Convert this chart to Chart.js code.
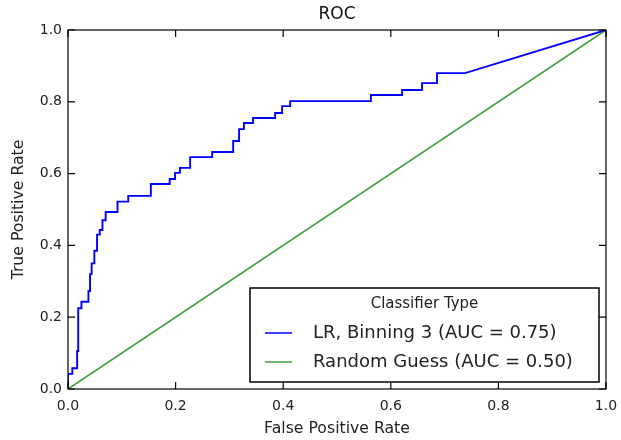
<!DOCTYPE html>
<html>
<head>
<meta charset="utf-8">
<script src="https://cdn.jsdelivr.net/npm/chart.js@4"></script>
<style>
  html, body { margin: 0; padding: 0; background: #fff; }
</style>
</head>
<body>
<canvas id="roc" width="621" height="440"></canvas>
<script>
// ROC curve (step corners)
const fpr = [0.0, 0.0, 0.008, 0.008, 0.017, 0.017, 0.019, 0.019, 0.025, 0.025,
  0.038, 0.038, 0.041, 0.041, 0.044, 0.044, 0.049, 0.049, 0.054, 0.054,
  0.059, 0.059, 0.064, 0.064, 0.070, 0.070, 0.092, 0.092, 0.112, 0.112,
  0.154, 0.154, 0.189, 0.189, 0.199, 0.199, 0.208, 0.208, 0.227, 0.227,
  0.268, 0.268, 0.307, 0.307, 0.318, 0.318, 0.327, 0.327, 0.344, 0.344,
  0.385, 0.385, 0.398, 0.398, 0.413, 0.413, 0.563, 0.563, 0.621, 0.621,
  0.658, 0.658, 0.686, 0.686, 0.738, 1.0];
const tpr = [0.0, 0.042, 0.042, 0.058, 0.058, 0.106, 0.106, 0.225, 0.225, 0.243,
  0.243, 0.273, 0.273, 0.320, 0.320, 0.350, 0.350, 0.385, 0.385, 0.430,
  0.430, 0.443, 0.443, 0.470, 0.470, 0.493, 0.493, 0.522, 0.522, 0.538,
  0.538, 0.571, 0.571, 0.585, 0.585, 0.602, 0.602, 0.616, 0.616, 0.646,
  0.646, 0.660, 0.660, 0.691, 0.691, 0.724, 0.724, 0.741, 0.741, 0.755,
  0.755, 0.769, 0.769, 0.788, 0.788, 0.802, 0.802, 0.819, 0.819, 0.833,
  0.833, 0.852, 0.852, 0.880, 0.880, 1.0];
const guessX = [0.0, 1.0];
const guessY = [0.0, 1.0];
const tickValues = [0.0, 0.2, 0.4, 0.6, 0.8, 1.0];
const seriesLabels = ['LR, Binning 3 (AUC = 0.75)', 'Random Guess (AUC = 0.50)'];
const legendTitle = 'Classifier Type';

const FONT = "'DejaVu Sans', sans-serif";

function toPoints(xs, ys) {
  return xs.map((x, i) => ({ x: x, y: ys[i] }));
}

// frame, inward ticks on all four sides, and the boxed legend
const framePlugin = {
  id: 'frame',
  afterDraw(chart) {
    const ctx = chart.ctx;
    const a = chart.chartArea;
    const xs = chart.scales.x;
    const ys = chart.scales.y;
    const tl = 7;
    ctx.save();
    ctx.strokeStyle = '#000';
    ctx.lineWidth = 1.2;
    ctx.beginPath();
    xs.ticks.forEach(t => {
      const px = xs.getPixelForValue(t.value);
      ctx.moveTo(px, a.bottom); ctx.lineTo(px, a.bottom - tl);
      ctx.moveTo(px, a.top); ctx.lineTo(px, a.top + tl);
    });
    ys.ticks.forEach(t => {
      const py = ys.getPixelForValue(t.value);
      ctx.moveTo(a.left, py); ctx.lineTo(a.left + tl, py);
      ctx.moveTo(a.right, py); ctx.lineTo(a.right - tl, py);
    });
    ctx.stroke();
    ctx.strokeRect(a.left, a.top, a.right - a.left, a.bottom - a.top);

    // legend box in the lower right corner
    const w = 349, h = 94;
    const left = a.right - 7 - w;
    const top = a.bottom - 7 - h;
    ctx.fillStyle = '#fff';
    ctx.fillRect(left, top, w, h);
    ctx.lineWidth = 1.5;
    ctx.strokeRect(left, top, w, h);

    ctx.fillStyle = '#222';
    ctx.textBaseline = 'middle';
    ctx.textAlign = 'center';
    ctx.font = '15px ' + FONT;
    ctx.fillText(legendTitle, left + w / 2, top + 16);

    ctx.textAlign = 'left';
    ctx.font = '18px ' + FONT;
    chart.data.datasets.forEach((ds, i) => {
      const y = top + 45 + i * 29;
      ctx.strokeStyle = ds.borderColor;
      ctx.lineWidth = 1.5;
      ctx.beginPath();
      ctx.moveTo(left + 15, y);
      ctx.lineTo(left + 42, y);
      ctx.stroke();
      ctx.fillText(ds.label, left + 63, y);
    });
    ctx.restore();
  }
};

const axisCommon = {
  type: 'linear',
  min: 0,
  max: 1,
  grid: { display: false, drawTicks: false },
  border: { display: false },
  afterBuildTicks: scale => { scale.ticks = tickValues.map(v => ({ value: v })); }
};

new Chart(document.getElementById('roc'), {
  type: 'line',
  data: {
    datasets: [{
      label: seriesLabels[0],
      data: toPoints(fpr, tpr),
      borderColor: '#0000ff',
      borderWidth: 1.9,
      pointRadius: 0,
      tension: 0,
      fill: false
    }, {
      label: seriesLabels[1],
      data: toPoints(guessX, guessY),
      borderColor: '#3c9f3c',
      borderWidth: 1.6,
      pointRadius: 0,
      tension: 0,
      fill: false
    }]
  },
  options: {
    responsive: false,
    animation: false,
    devicePixelRatio: 1,
    layout: { padding: { top: 0, left: 0, right: 15, bottom: 0 } },
    plugins: {
      legend: { display: false },
      tooltip: { enabled: false },
      title: {
        display: true,
        fullSize: false,
        text: 'ROC',
        color: '#111',
        font: { family: FONT, size: 17, weight: 'normal', lineHeight: 1.2 },
        padding: { top: 4.8, bottom: 4.8 }
      }
    },
    scales: {
      x: Object.assign({}, axisCommon, {
        position: 'bottom',
        ticks: {
          padding: 9,
          color: '#222',
          font: { family: FONT, size: 14 },
          callback: v => v.toFixed(1)
        },
        title: {
          display: true,
          text: 'False Positive Rate',
          color: '#222',
          font: { family: FONT, size: 15.7 },
          padding: { top: 0, bottom: 2 }
        },
        afterFit: scale => {
          scale.height = 51;
          scale.paddingLeft = 0;
          scale.paddingRight = 0;
        }
      }),
      y: Object.assign({}, axisCommon, {
        position: 'left',
        ticks: {
          padding: 6,
          color: '#222',
          font: { family: FONT, size: 14 },
          callback: v => v.toFixed(1)
        },
        title: {
          display: true,
          text: 'True Positive Rate',
          color: '#222',
          font: { family: FONT, size: 15.7 },
          padding: { top: 9.5, bottom: 0 }
        },
        afterFit: scale => { scale.width = 68; }
      })
    }
  },
  plugins: [framePlugin]
});
</script>
</body>
</html>
